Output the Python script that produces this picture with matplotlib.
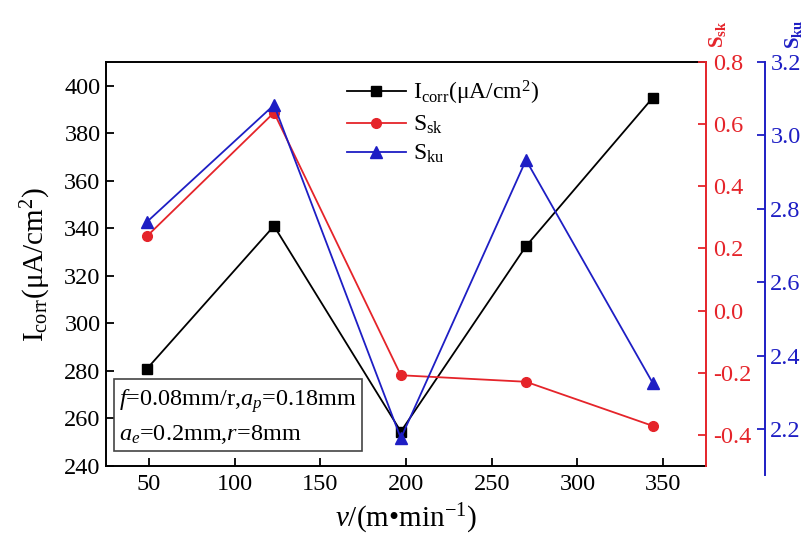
import matplotlib
matplotlib.use("Agg")
import matplotlib.pyplot as plt
from matplotlib.lines import Line2D

plt.rcParams["font.family"] = ["Liberation Serif", "DejaVu Serif"]
plt.rcParams["mathtext.fontset"] = "custom"
plt.rcParams["mathtext.rm"] = "Liberation Serif"
plt.rcParams["mathtext.it"] = "Liberation Serif:italic"
plt.rcParams["mathtext.bf"] = "Liberation Serif:bold"
plt.rcParams["axes.unicode_minus"] = False

# cutting speed and measured responses
speed = [49, 123, 197, 270, 344]
icorr = [281, 341, 254.5, 332.5, 395]
ssk = [0.24, 0.637, -0.208, -0.229, -0.371]
sku = [2.765, 3.083, 2.175, 2.933, 2.325]

x_ticks = [50, 100, 150, 200, 250, 300, 350]
icorr_ticks = [240, 260, 280, 300, 320, 340, 360, 380, 400]
ssk_ticks = [-0.4, -0.2, 0.0, 0.2, 0.4, 0.6, 0.8]
sku_ticks = [2.2, 2.4, 2.6, 2.8, 3.0, 3.2]

RED = "#e5242a"
BLUE = "#1e1ec4"
TICK_FS = 17.5

W, H = 809, 541
fig = plt.figure(figsize=(W / 100, H / 100), dpi=100)

l, r, t, b = 106, 706, 62, 466
ax = fig.add_axes([l / W, 1 - b / H, (r - l) / W, (b - t) / H])
ax.plot(speed, icorr, color="black", lw=1.3, marker="s", ms=7, zorder=3)
ax.set_xlim(25, 375)
ax.set_ylim(240, 410)
ax.set_xticks(x_ticks)
ax.set_yticks(icorr_ticks)
ax.tick_params(direction="in", length=6, width=1.3, labelsize=TICK_FS, pad=6)
ax.tick_params(axis="y", pad=4)
for s in ax.spines.values():
    s.set_linewidth(1.4)
ax.spines["right"].set_visible(False)
ax.set_ylabel(r"I$_{\rm corr}$(μA/cm$^2$)", fontsize=21, labelpad=8)
ax.set_xlabel(r"$v$/(m•min$^{-1}$)", fontsize=21, labelpad=5)

# skewness on the first right axis
ax2 = ax.twinx()
ax2.plot(speed, ssk, color=RED, lw=1.3, marker="o", ms=7, zorder=3)
ax2.set_ylim(-0.5, 0.8)
ax2.set_yticks(ssk_ticks)
ax2.yaxis.set_major_formatter(plt.FormatStrFormatter("%.1f"))
ax2.tick_params(axis="y", direction="in", length=6, width=1.3, colors=RED,
                labelsize=TICK_FS, pad=5)
for k in ("left", "top", "bottom"):
    ax2.spines[k].set_visible(False)
ax2.spines["right"].set_color(RED)
ax2.spines["right"].set_linewidth(1.4)

# kurtosis on an offset axis, slightly taller than the main frame
bb = 475
ax3 = fig.add_axes([l / W, 1 - bb / H, (r - l) / W, (bb - t) / H], sharex=ax)
ax3.patch.set_visible(False)
ax3.plot(speed, sku, color=BLUE, lw=1.3, marker="^", ms=8, zorder=3)
ax3.set_ylim(2.075, 3.2)
ax3.set_yticks(sku_ticks)
ax3.yaxis.set_major_formatter(plt.FormatStrFormatter("%.1f"))
ax3.yaxis.tick_right()
ax3.tick_params(axis="y", direction="in", length=6, width=1.3, colors=BLUE,
                labelsize=TICK_FS, pad=4)
ax3.tick_params(axis="x", bottom=False, labelbottom=False)
for k in ("left", "top", "bottom"):
    ax3.spines[k].set_visible(False)
ax3.spines["right"].set_position(("axes", 1.098))
ax3.spines["right"].set_color(BLUE)
ax3.spines["right"].set_linewidth(1.4)

fig.text(717 / W, 1 - 34 / H, r"$\mathbf{S_{sk}}$", color=RED, rotation=90,
         ha="center", va="center", fontsize=15)
fig.text(793 / W, 1 - 34 / H, r"$\mathbf{S_{ku}}$", color=BLUE, rotation=90,
         ha="center", va="center", fontsize=15)

handles = [
    Line2D([], [], color="black", lw=1.3, marker="s", ms=7),
    Line2D([], [], color=RED, lw=1.3, marker="o", ms=7),
    Line2D([], [], color=BLUE, lw=1.3, marker="^", ms=8),
]
labels = [r"I$_{\rm corr}$(μA/cm$^2$)", r"S$_{\rm sk}$", r"S$_{\rm ku}$"]
fig.legend(handles, labels, loc="upper left",
           bbox_to_anchor=(330 / W, 1 - 62 / H), frameon=False,
           fontsize=17, handlelength=2.5, handletextpad=0.3,
           labelspacing=0.3, borderpad=0.2)

ax.text(0.022, 0.05,
        r"$f$=0.08mm/r,$a_p$=0.18mm" + "\n" + r"$a_e$=0.2mm,$r$=8mm",
        transform=ax.transAxes, fontsize=17.5, ha="left", va="bottom",
        linespacing=1.45,
        bbox=dict(boxstyle="square,pad=0.2", fc="white", ec="#444444", lw=1.2))

fig.savefig("out.png", dpi=100)
